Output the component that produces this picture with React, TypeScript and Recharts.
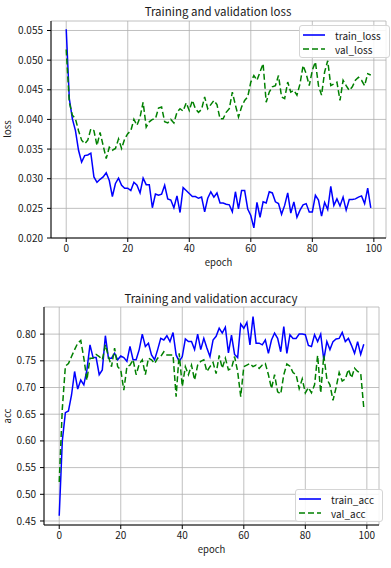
import React from 'react';
import { LineChart, Line, XAxis, YAxis, CartesianGrid } from 'recharts';

const epochs = Array.from({ length: 100 }, (_, i) => i);
const epochTicks = [0, 20, 40, 60, 80, 100];
const lossTicks = [0.02, 0.025, 0.03, 0.035, 0.04, 0.045, 0.05, 0.055];
const accTicks = [0.45, 0.5, 0.55, 0.6, 0.65, 0.7, 0.75, 0.8];

const trainLoss = [
  0.0552, 0.0435, 0.0401, 0.0381, 0.0348, 0.0328, 0.0339, 0.034, 0.0343, 0.0303,
  0.0294, 0.0299, 0.0303, 0.031, 0.0297, 0.027, 0.0292, 0.0301, 0.0289, 0.0284,
  0.0284, 0.028, 0.0294, 0.0289, 0.0276, 0.0301, 0.029, 0.029, 0.0251, 0.0274,
  0.0272, 0.0274, 0.0289, 0.0266, 0.0264, 0.0251, 0.0271, 0.0243, 0.0285, 0.028,
  0.0275, 0.027, 0.027, 0.0267, 0.0269, 0.0244, 0.0267, 0.0278, 0.0269, 0.0276,
  0.0259, 0.0259, 0.0257, 0.0256, 0.0244, 0.0278, 0.0249, 0.028, 0.028, 0.0249,
  0.0238, 0.0217, 0.026, 0.0235, 0.0261, 0.0259, 0.0278, 0.0276, 0.0261, 0.0258,
  0.024, 0.0255, 0.0276, 0.0242, 0.0261, 0.0235, 0.0247, 0.0256, 0.0258, 0.0244,
  0.0244, 0.0272, 0.0264, 0.0237, 0.026, 0.0248, 0.0287, 0.0255, 0.0266, 0.0254,
  0.0269, 0.0247, 0.0265, 0.0265, 0.0266, 0.0269, 0.0271, 0.0258, 0.0284, 0.0251,
];

const valLoss = [
  0.0518, 0.0429, 0.0407, 0.0401, 0.0381, 0.0365, 0.0359, 0.0365, 0.0384, 0.0381,
  0.0356, 0.0378, 0.0356, 0.0334, 0.0353, 0.0348, 0.0351, 0.0367, 0.0351, 0.0367,
  0.0376, 0.0381, 0.04, 0.039, 0.0404, 0.0429, 0.0387, 0.0396, 0.04, 0.0401,
  0.0419, 0.0421, 0.0396, 0.0394, 0.04, 0.0394, 0.0412, 0.0418, 0.0414, 0.0428,
  0.0415, 0.0432, 0.0418, 0.0412, 0.0417, 0.0438, 0.0418, 0.0425, 0.0432, 0.0425,
  0.0401, 0.0401, 0.0412, 0.0418, 0.0446, 0.0424, 0.0404, 0.0421, 0.0432, 0.0438,
  0.0463, 0.0474, 0.0466, 0.048, 0.0494, 0.0429, 0.0446, 0.0455, 0.0457, 0.0474,
  0.0438, 0.0435, 0.0463, 0.0446, 0.0449, 0.0441, 0.046, 0.0491, 0.0477, 0.0457,
  0.0483, 0.0497, 0.0457, 0.0441, 0.048, 0.0499, 0.0457, 0.046, 0.0463, 0.0432,
  0.0466, 0.0457, 0.0449, 0.0455, 0.0466, 0.0471, 0.0466, 0.0457, 0.0477, 0.0475,
];

const trainAcc = [
  0.46, 0.6, 0.653, 0.656, 0.686, 0.73, 0.697, 0.714, 0.705, 0.733,
  0.78, 0.756, 0.756, 0.724, 0.733, 0.797, 0.755, 0.755, 0.764, 0.752,
  0.759, 0.756, 0.749, 0.777, 0.752, 0.752, 0.771, 0.8, 0.777, 0.783,
  0.761, 0.752, 0.771, 0.792, 0.789, 0.797, 0.786, 0.803, 0.761, 0.749,
  0.758, 0.791, 0.786, 0.786, 0.771, 0.8, 0.771, 0.792, 0.774, 0.758,
  0.789, 0.796, 0.811, 0.802, 0.813, 0.765, 0.798, 0.762, 0.756, 0.819,
  0.811, 0.822, 0.78, 0.833, 0.783, 0.783, 0.78, 0.789, 0.764, 0.789,
  0.802, 0.792, 0.767, 0.814, 0.764, 0.799, 0.792, 0.792, 0.8, 0.8,
  0.799, 0.779, 0.777, 0.799, 0.786, 0.8, 0.752, 0.786, 0.771, 0.786,
  0.791, 0.792, 0.803, 0.786, 0.792, 0.779, 0.764, 0.786, 0.762, 0.781,
];

const valAcc = [
  0.523, 0.66, 0.74, 0.745, 0.758, 0.771, 0.783, 0.788, 0.755, 0.714,
  0.755, 0.755, 0.762, 0.758, 0.752, 0.78, 0.758, 0.739, 0.774, 0.739,
  0.733, 0.695, 0.739, 0.742, 0.752, 0.724, 0.744, 0.752, 0.724, 0.755,
  0.752, 0.745, 0.755, 0.758, 0.767, 0.761, 0.761, 0.761, 0.683, 0.764,
  0.702, 0.739, 0.724, 0.742, 0.714, 0.742, 0.749, 0.752, 0.73, 0.739,
  0.747, 0.726, 0.76, 0.736, 0.755, 0.733, 0.736, 0.758, 0.73, 0.683,
  0.739, 0.742, 0.745, 0.739, 0.742, 0.736, 0.742, 0.745, 0.724, 0.698,
  0.724, 0.692, 0.688, 0.724, 0.744, 0.74, 0.728, 0.724, 0.698, 0.716,
  0.69, 0.7, 0.69, 0.705, 0.76, 0.69, 0.76, 0.716, 0.705, 0.676,
  0.7, 0.728, 0.712, 0.716, 0.734, 0.718, 0.736, 0.73, 0.727, 0.662,
];

const FONT = '"Noto Sans CJK JP", "Noto Sans", sans-serif';
const BLUE = '#0000ff';
const GREEN = '#008000';

const lossData = epochs.map(e => ({ epoch: e, train_loss: trainLoss[e], val_loss: valLoss[e] }));
const accData = epochs.map(e => ({ epoch: e, train_acc: trainAcc[e], val_acc: valAcc[e] }));

const tickStyle = { fill: '#1a1a1a', fontSize: 10, fontFamily: FONT };

// legend drawn as an overlay so it doesn't eat into the plot area
const LegendBox = ({ items, left, top }: { items: { name: string; color: string; dashed?: boolean }[]; left: number; top: number }) => (
  <div
    style={{
      position: 'absolute',
      left,
      top,
      border: '1px solid #d5d5d5',
      borderRadius: 3,
      background: 'rgba(255,255,255,0.85)',
      padding: '2px 8px 1px 2px',
      fontFamily: FONT,
      fontSize: 10,
      color: '#1a1a1a',
    }}
  >
    {items.map(it => (
      <div key={it.name} style={{ display: 'flex', alignItems: 'center', height: 14 }}>
        <svg width={26} height={8} style={{ marginRight: 7 }}>
          <line x1={1} y1={4} x2={23} y2={4} stroke={it.color} strokeWidth={1.6} strokeDasharray={it.dashed ? '6 3' : undefined} />
        </svg>
        <span>{it.name}</span>
      </div>
    ))}
  </div>
);

const Title = ({ text, x, y }: { text: string; x: number; y: number }) => (
  <div
    style={{
      position: 'absolute',
      left: x - 120,
      width: 240,
      top: y,
      textAlign: 'center',
      fontFamily: FONT,
      fontSize: 11.5,
      color: '#1a1a1a',
    }}
  >
    {text}
  </div>
);

const SideLabel = ({ text, y }: { text: string; y: number }) => (
  <div
    style={{
      position: 'absolute',
      left: -13,
      top: y - 7,
      width: 40,
      height: 14,
      textAlign: 'center',
      fontFamily: FONT,
      fontSize: 9.5,
      color: '#1a1a1a',
      transform: 'rotate(-90deg)',
    }}
  >
    {text}
  </div>
);

export default function App() {
  return (
    <div style={{ position: 'absolute', left: 0, top: 0, width: 391, height: 568, background: '#fff' }}>
      <Title text="Training and validation loss" x={218} y={3} />
      <SideLabel text="loss" y={129} />
      <div style={{ position: 'absolute', left: 0, top: 0 }}>
        <LineChart width={391} height={280} data={lossData} margin={{ top: 21, right: 5, bottom: 12, left: 0 }}>
          <CartesianGrid stroke="#b0b0b0" strokeWidth={0.8} />
          <XAxis
            dataKey="epoch"
            type="number"
            domain={[-4.95, 103.95]}
            ticks={epochTicks}
            interval={0}
            allowDataOverflow
            tick={tickStyle}
            tickSize={4}
            tickMargin={3}
            height={30}
            stroke="#000"
            label={{ value: 'epoch', position: 'insideBottom', offset: 2, style: { fontSize: 9.5, fontFamily: FONT, fill: '#1a1a1a' } }}
          />
          <XAxis xAxisId="top" orientation="top" dataKey="epoch" type="number" domain={[-4.95, 103.95]} tick={false} tickLine={false} height={0} stroke="#000" />
          <YAxis
            type="number"
            domain={[0.02, 0.0566]}
            ticks={lossTicks}
            interval={0}
            allowDataOverflow
            tickFormatter={(v: number) => v.toFixed(3)}
            tick={tickStyle}
            tickSize={4}
            tickMargin={4}
            width={51}
            stroke="#000"
          />
          <YAxis yAxisId="right" orientation="right" type="number" domain={[0, 1]} tick={false} tickLine={false} width={0} stroke="#000" />
          <Line dataKey="train_loss" name="train_loss" stroke={BLUE} strokeWidth={1.5} dot={false} isAnimationActive={false} />
          <Line dataKey="val_loss" name="val_loss" stroke={GREEN} strokeWidth={1.5} strokeDasharray="6 3" dot={false} isAnimationActive={false} />
        </LineChart>
      </div>
      <LegendBox
        left={299}
        top={25}
        items={[
          { name: 'train_loss', color: BLUE },
          { name: 'val_loss', color: GREEN, dashed: true },
        ]}
      />

      <Title text="Training and validation accuracy" x={211} y={290} />
      <SideLabel text="acc" y={416} />
      <div style={{ position: 'absolute', left: 0, top: 280 }}>
        <LineChart width={391} height={288} data={accData} margin={{ top: 27, right: 12, bottom: 13, left: 0 }}>
          <CartesianGrid stroke="#b0b0b0" strokeWidth={0.8} />
          <XAxis
            dataKey="epoch"
            type="number"
            domain={[-4.95, 103.95]}
            ticks={epochTicks}
            interval={0}
            allowDataOverflow
            tick={tickStyle}
            tickSize={4}
            tickMargin={3}
            height={30}
            stroke="#000"
            label={{ value: 'epoch', position: 'insideBottom', offset: 2, style: { fontSize: 9.5, fontFamily: FONT, fill: '#1a1a1a' } }}
          />
          <XAxis xAxisId="top" orientation="top" dataKey="epoch" type="number" domain={[-4.95, 103.95]} tick={false} tickLine={false} height={0} stroke="#000" />
          <YAxis
            type="number"
            domain={[0.4425, 0.8508]}
            ticks={accTicks}
            interval={0}
            allowDataOverflow
            tickFormatter={(v: number) => v.toFixed(2)}
            tick={tickStyle}
            tickSize={4}
            tickMargin={4}
            width={44}
            stroke="#000"
          />
          <YAxis yAxisId="right" orientation="right" type="number" domain={[0, 1]} tick={false} tickLine={false} width={0} stroke="#000" />
          <Line dataKey="train_acc" name="train_acc" stroke={BLUE} strokeWidth={1.5} dot={false} isAnimationActive={false} />
          <Line dataKey="val_acc" name="val_acc" stroke={GREEN} strokeWidth={1.5} strokeDasharray="6 3" dot={false} isAnimationActive={false} />
        </LineChart>
      </div>
      <LegendBox
        left={295}
        top={489}
        items={[
          { name: 'train_acc', color: BLUE },
          { name: 'val_acc', color: GREEN, dashed: true },
        ]}
      />
    </div>
  );
}
